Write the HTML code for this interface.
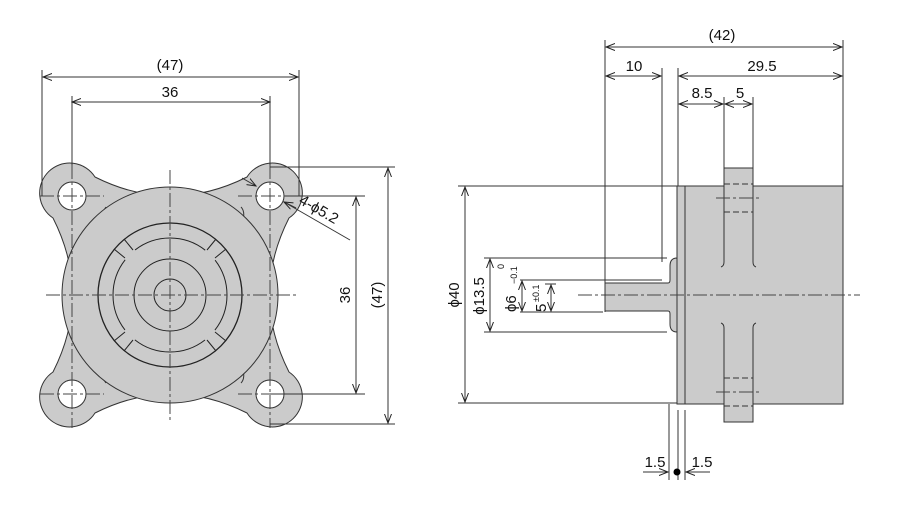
<!DOCTYPE html>
<html><head><meta charset="utf-8"><style>
html,body{margin:0;padding:0;background:#fff}
svg{display:block}
text{font-family:"Liberation Sans",sans-serif;font-size:15px;fill:#111}
</style></head><body>
<svg width="898" height="514" viewBox="0 0 898 514" xmlns="http://www.w3.org/2000/svg">
<defs>
<marker id="a" markerWidth="10" markerHeight="8" refX="9" refY="4" orient="auto-start-reverse" markerUnits="userSpaceOnUse"><path d="M0,0.5 L9,4 L0,7.5" fill="none" stroke="#222" stroke-width="1"/></marker>
</defs>
<g stroke="#333" stroke-width="1" fill="none">
<!-- LEFT VIEW -->
<path d="M53,218 A30,30 0 1 1 95,177 Q171,215 247,177 A30,30 0 1 1 289,218 Q250,295 289,372 A30,30 0 1 1 247,413 Q171,375 95,413 A30,30 0 1 1 53,372 Q92,295 53,218 Z" fill="#cbcbcb"/>
<g fill="#fff">
<circle cx="72" cy="196" r="14"/><circle cx="270" cy="196" r="14"/>
<circle cx="72" cy="394" r="14"/><circle cx="270" cy="394" r="14"/>
</g>
<path d="M100,224 Q102,212 106,207 M241,207 Q246,212 242,224 M100,366 Q102,378 106,383 M241,383 Q246,378 242,366" />
<circle cx="170" cy="295" r="108" fill="#cbcbcb"/>
<circle cx="170" cy="295" r="72" stroke="#222" stroke-width="1.3"/>
<circle cx="170" cy="295" r="57" stroke="#222" stroke-dasharray="75.5 14" stroke-dashoffset="37.7"/>
<circle cx="170" cy="295" r="36" stroke="#222"/>
<circle cx="170" cy="295" r="16" stroke="#222"/>
<g stroke="#222">
<path d="M133,250 L124,239 M125,258 L114,249 M207,250 L216,239 M215,258 L226,249 M133,340 L124,351 M125,332 L114,341 M207,340 L216,351 M215,332 L226,341"/>
</g>
<g stroke="#444" stroke-dasharray="14 3 3 3">
<line x1="46" y1="295" x2="296" y2="295"/><line x1="170" y1="170" x2="170" y2="420"/>
<line x1="40" y1="196" x2="104" y2="196"/><line x1="238" y1="196" x2="302" y2="196"/>
<line x1="40" y1="394" x2="104" y2="394"/><line x1="238" y1="394" x2="302" y2="394"/>
<line x1="72" y1="165" x2="72" y2="428"/><line x1="270" y1="165" x2="270" y2="428"/>
</g>
<!-- left dims -->
<line x1="42" y1="70" x2="42" y2="196"/><line x1="299" y1="70" x2="299" y2="196"/>
<line x1="72" y1="96" x2="72" y2="165"/><line x1="270" y1="96" x2="270" y2="165"/>
<line x1="43" y1="77" x2="298" y2="77" marker-start="url(#a)" marker-end="url(#a)"/>
<line x1="72" y1="102" x2="270" y2="102" marker-start="url(#a)" marker-end="url(#a)"/>
<line x1="270" y1="167" x2="395" y2="167"/><line x1="285" y1="196" x2="365" y2="196"/>
<line x1="270" y1="394" x2="365" y2="394"/><line x1="270" y1="424" x2="395" y2="424"/>
<line x1="356" y1="197" x2="356" y2="393" marker-start="url(#a)" marker-end="url(#a)"/>
<line x1="388" y1="168" x2="388" y2="423" marker-start="url(#a)" marker-end="url(#a)"/>
<line x1="242" y1="178" x2="256" y2="186" marker-end="url(#a)"/>
<line x1="284" y1="202" x2="350" y2="240"/>
<line x1="296" y1="208" x2="284" y2="202" marker-end="url(#a)"/>
<!-- RIGHT VIEW -->
<rect x="724" y="168" width="29" height="254" fill="#cbcbcb"/>
<rect x="677" y="186" width="166" height="218" fill="#cbcbcb"/>
<rect x="724" y="168" width="29" height="254" fill="#cbcbcb" stroke="none"/>
<line x1="724" y1="168" x2="753" y2="168"/><line x1="724" y1="422" x2="753" y2="422"/>
<line x1="724" y1="168" x2="724" y2="186"/><line x1="753" y1="168" x2="753" y2="186"/>
<line x1="724" y1="404" x2="724" y2="422"/><line x1="753" y1="404" x2="753" y2="422"/>
<line x1="685" y1="186" x2="685" y2="404"/>
<path d="M724,186 V262 Q724,266 721,267 M753,186 V262 Q753,266 756,267 M724,404 V328 Q724,324 721,323 M753,404 V328 Q753,324 756,323"/>
<path d="M724,184 H753 M724,212 H753 M724,378 H753 M724,406 H753" stroke-dasharray="6 3"/>
<path d="M605,283 H668 Q670,283 670,280 V266 Q670,258 677,258 V332 Q670,332 670,324 V314 Q670,311 668,311 H605 Z" fill="#cbcbcb"/>
<g stroke="#444" stroke-dasharray="14 3 3 3">
<line x1="578" y1="295" x2="860" y2="295"/>
<line x1="716" y1="198" x2="761" y2="198"/><line x1="716" y1="392" x2="761" y2="392"/>
</g>
<!-- right dims -->
<line x1="605" y1="40" x2="605" y2="312"/><line x1="843" y1="40" x2="843" y2="186"/>
<line x1="662" y1="68" x2="662" y2="262"/><line x1="678" y1="68" x2="678" y2="186"/>
<line x1="724" y1="97" x2="724" y2="168"/><line x1="753" y1="97" x2="753" y2="168"/>
<line x1="606" y1="47" x2="842" y2="47" marker-start="url(#a)" marker-end="url(#a)"/>
<line x1="606" y1="76" x2="661" y2="76" marker-start="url(#a)" marker-end="url(#a)"/>
<line x1="679" y1="76" x2="842" y2="76" marker-start="url(#a)" marker-end="url(#a)"/>
<line x1="679" y1="104" x2="723" y2="104" marker-start="url(#a)" marker-end="url(#a)"/>
<line x1="725" y1="104" x2="752" y2="104" marker-start="url(#a)" marker-end="url(#a)"/>
<line x1="458" y1="186" x2="677" y2="186"/><line x1="458" y1="403" x2="677" y2="403"/>
<line x1="484" y1="258" x2="667" y2="258"/><line x1="484" y1="332" x2="667" y2="332"/>
<line x1="520" y1="280" x2="662" y2="280"/><line x1="520" y1="312" x2="603" y2="312"/>
<line x1="545" y1="284" x2="556" y2="284"/>
<line x1="465" y1="187" x2="465" y2="402" marker-start="url(#a)" marker-end="url(#a)"/>
<line x1="490" y1="259" x2="490" y2="331" marker-start="url(#a)" marker-end="url(#a)"/>
<line x1="522" y1="281" x2="522" y2="311" marker-start="url(#a)" marker-end="url(#a)"/>
<line x1="551" y1="285" x2="551" y2="311" marker-start="url(#a)" marker-end="url(#a)"/>
<line x1="669" y1="404" x2="669" y2="480"/>
<line x1="678" y1="410" x2="678" y2="480"/><line x1="685" y1="410" x2="685" y2="480"/>
<line x1="643" y1="472" x2="668" y2="472" marker-end="url(#a)"/>
<line x1="710" y1="472" x2="686" y2="472" marker-end="url(#a)"/>
</g>
<circle cx="677" cy="472" r="3.5" fill="#000"/>
<text x="170" y="70" text-anchor="middle">(47)</text>
<text x="170" y="97" text-anchor="middle">36</text>
<text x="0" y="0" transform="translate(350,295) rotate(-90)" text-anchor="middle">36</text>
<text x="0" y="0" transform="translate(382,295) rotate(-90)" text-anchor="middle">(47)</text>
<text x="0" y="0" transform="translate(298,203) rotate(30)">4-ϕ5.2</text>
<text x="722" y="40" text-anchor="middle">(42)</text>
<text x="634" y="71" text-anchor="middle">10</text>
<text x="762" y="71" text-anchor="middle">29.5</text>
<text x="702" y="98" text-anchor="middle">8.5</text>
<text x="740" y="98" text-anchor="middle">5</text>
<text x="0" y="0" transform="translate(459,295) rotate(-90)" text-anchor="middle">ϕ40</text>
<text x="0" y="0" transform="translate(484,296) rotate(-90)" text-anchor="middle">ϕ13.5</text>
<text x="0" y="0" transform="translate(516,312) rotate(-90)">ϕ6</text>
<text x="0" y="0" transform="translate(517,284) rotate(-90)" style="font-size:9px">−0.1</text>
<text x="0" y="0" transform="translate(504,269) rotate(-90)" style="font-size:9px">0</text>
<text x="0" y="0" transform="translate(546,312) rotate(-90)">5</text>
<text x="0" y="0" transform="translate(539,302) rotate(-90)" style="font-size:9px">±0.1</text>
<text x="655" y="467" text-anchor="middle">1.5</text>
<text x="702" y="467" text-anchor="middle">1.5</text>
</svg>
</body></html>
